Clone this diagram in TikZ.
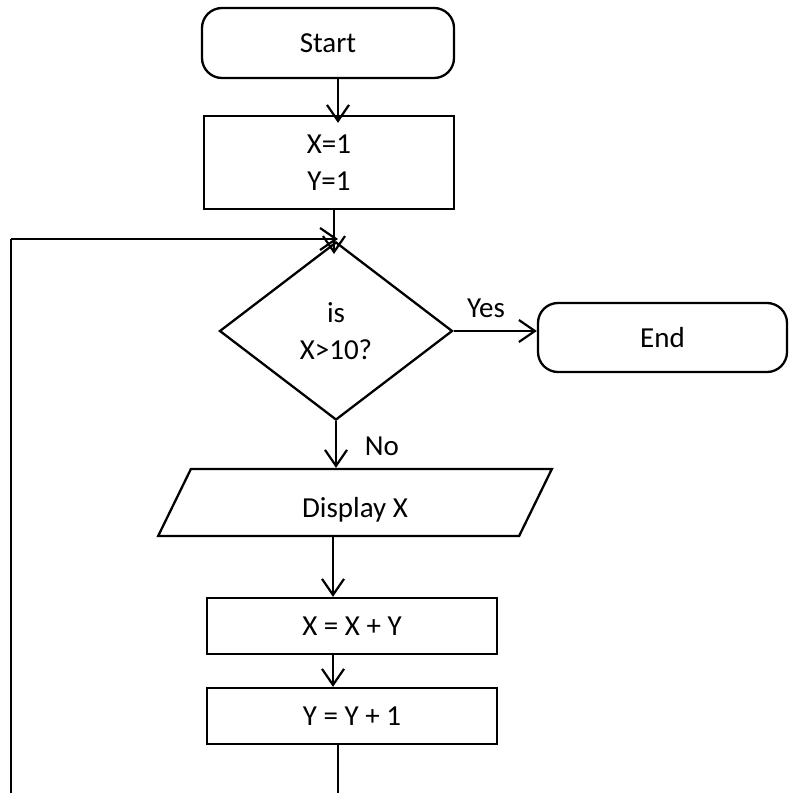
\documentclass[tikz,border=0pt]{standalone}
\usepackage{fontspec}
\setmainfont{Carlito}
\usetikzlibrary{shapes.geometric,arrows.meta}
\begin{document}
\begin{tikzpicture}[x=1bp,y=1bp,
  every node/.style={font=\fontsize{29bp}{37bp}\selectfont, inner sep=0pt},
  term/.style={draw, line width=2.3bp, rectangle, rounded corners=20bp},
  proc/.style={draw, line width=2.3bp, rectangle},
  arr/.style={line width=2.2bp, -{Straight Barb[length=16bp,width=22bp]}},
  thinline/.style={line width=1.2bp}]
\useasboundingbox (0,0) rectangle (795,-793);
% nodes
\node[term, minimum width=252bp, minimum height=70bp] (start) at (328,-43) {Start};
\node[proc, minimum width=250bp, minimum height=93bp, align=center] (init) at (329,-162.5) {X=1\\Y=1};
\node[draw, diamond, line width=2.3bp, minimum width=233bp, minimum height=178bp, align=center] (dec) at (336,-331) {is\\X>10?};
\node[term, minimum width=249bp, minimum height=69bp] (end) at (662.5,-337.5) {End};
\node[draw, trapezium, trapezium left angle=70, trapezium right angle=110, trapezium stretches=true, line width=2.3bp, minimum width=394bp, minimum height=67bp, text height=29bp, text depth=0pt] (disp) at (355,-502.5) {Display X};
\node[proc, minimum width=290bp, minimum height=56bp] (xxy) at (352,-626) {X = X + Y};
\node[proc, minimum width=290bp, minimum height=56bp] (yy1) at (352,-716) {Y = Y + 1};
% labels
\node (yes) at (486,-308) {Yes};
\node (no) at (382,-446) {No};
% helper coordinates
\coordinate (c338) at (338,0);
\coordinate (c334) at (334,0);
\coordinate (c333) at (333,0);
\coordinate (dtop) at (334,-254);
\coordinate (merge) at (338,-239);
\coordinate (tl) at (11,-239);
\coordinate (bl) at (11,-793);
\coordinate (bb) at (338,-793);
% connectors
\draw[arr, shorten >=-8bp] (start.south -| c338) -- (init.north -| c338);
\draw[arr] (init.south -| c334) -- (dtop);
\draw[thinline] (bl) -- (tl);
\draw[arr] (tl) -- (merge);
\draw[arr] (dec.east) -- (end.west |- dec.east);
\draw[arr] (dec.south) -- (disp.north -| dec.south);
\draw[arr] (disp.south -| c333) -- (xxy.north -| c333);
\draw[arr] (xxy.south -| c333) -- (yy1.north -| c333);
\draw[thinline] (yy1.south -| bb) -- (bb);
\end{tikzpicture}
\end{document}
